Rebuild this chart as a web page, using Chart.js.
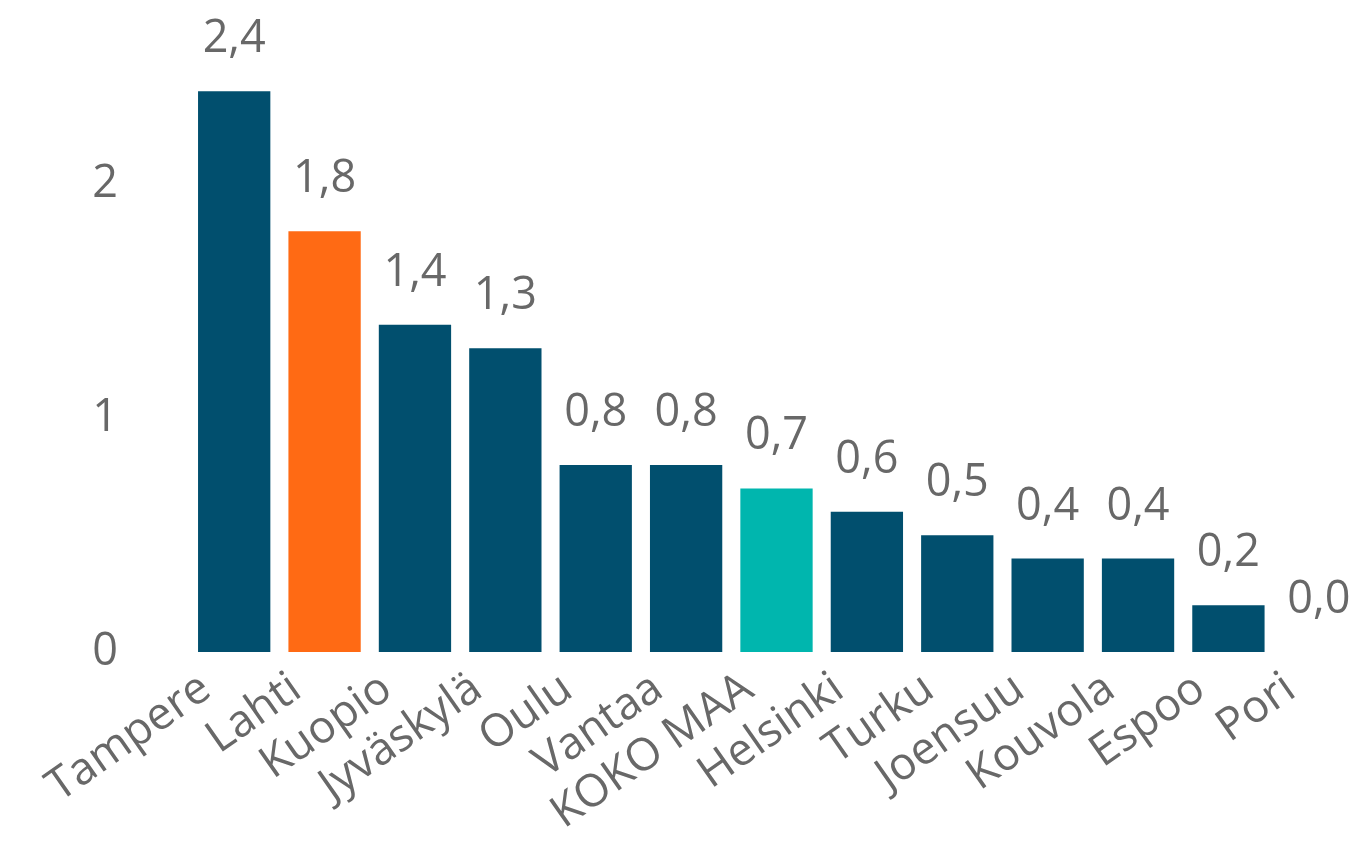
<!DOCTYPE html>
<html>
<head>
<meta charset="utf-8">
<script src="https://cdn.jsdelivr.net/npm/chart.js@4.4.1/dist/chart.umd.min.js"></script>
<style>
  html, body { margin: 0; padding: 0; background: #ffffff; overflow: hidden; }
  #wrap { width: 1372px; height: 843px; position: relative; }
</style>
</head>
<body>
<div id="wrap"><canvas id="c"></canvas></div>
<script>
const categories = ["Tampere", "Lahti", "Kuopio", "Jyväskylä", "Oulu", "Vantaa", "KOKO MAA", "Helsinki", "Turku", "Joensuu", "Kouvola", "Espoo", "Pori"];
const values = [2.4, 1.8, 1.4, 1.3, 0.8, 0.8, 0.7, 0.6, 0.5, 0.4, 0.4, 0.2, 0.0];
const yTicks = [0, 1, 2];

const DARK = "#014f6e", ORANGE = "#ff6a14", TEAL = "#00b6ae";
const barColors = categories.map(c => c === "Lahti" ? ORANGE : (c === "KOKO MAA" ? TEAL : DARK));
const TEXT = "#686868";
const FONT = "'Open Sans', 'Noto Sans', sans-serif";

const valueLabels = {
  id: "valueLabels",
  afterDatasetsDraw(chart) {
    const ctx = chart.ctx;
    const meta = chart.getDatasetMeta(0);
    ctx.save();
    ctx.font = "45px " + FONT;
    ctx.fillStyle = TEXT;
    ctx.textAlign = "center";
    ctx.textBaseline = "alphabetic";
    meta.data.forEach((bar, i) => {
      const txt = values[i].toFixed(1).replace(".", ",");
      ctx.fillText(txt, bar.x, bar.y - 39);
    });
    ctx.restore();
  }
};

new Chart(document.getElementById("c"), {
  type: "bar",
  data: {
    labels: categories,
    datasets: [{
      data: values,
      backgroundColor: barColors,
      borderWidth: 0,
      barPercentage: 1.0,
      categoryPercentage: 0.8
    }]
  },
  options: {
    responsive: true,
    maintainAspectRatio: false,
    animation: false,
    layout: { padding: { left: 0, right: 8, top: 0, bottom: 0 } },
    plugins: { legend: { display: false }, tooltip: { enabled: false } },
    scales: {
      x: {
        grid: { display: false, drawTicks: false },
        border: { display: false },
        ticks: {
          color: TEXT,
          font: { family: FONT, size: 45 },
          minRotation: 35,
          maxRotation: 35,
          autoSkip: false,
          padding: 10,
          labelOffset: -28
        },
        afterFit(scale) { scale.height = 191; }
      },
      y: {
        min: 0,
        max: 2.79,
        grid: { display: false, drawTicks: false },
        border: { display: false },
        ticks: {
          color: TEXT,
          font: { family: FONT, size: 45 },
          padding: 71
        },
        afterBuildTicks(scale) { scale.ticks = yTicks.map(v => ({ value: v })); },
        afterFit(scale) { scale.width = 189; scale.paddingTop = 0; scale.paddingBottom = 0; }
      }
    }
  },
  plugins: [valueLabels]
});
</script>
</body>
</html>
